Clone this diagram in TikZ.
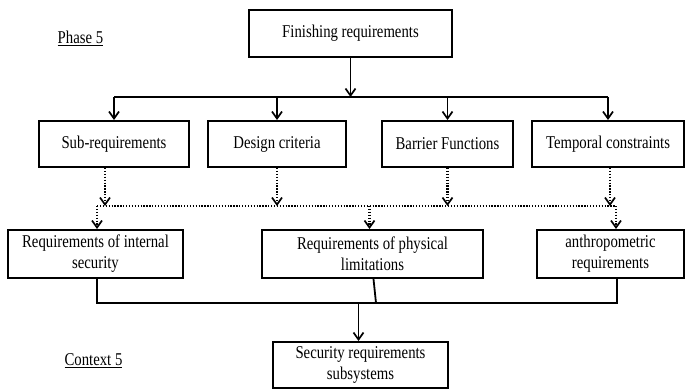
\documentclass[tikz,border=0pt]{standalone}
\usepackage{fontspec}
\setmainfont{Liberation Serif}[FakeStretch=0.82]
\usetikzlibrary{arrows.meta}
\begin{document}
\begin{tikzpicture}[x=1pt,y=-1pt,
  box/.style={draw, line width=2pt, align=center, inner sep=0pt,
    font=\fontsize{18}{21}\selectfont},
  lbl/.style={inner sep=0pt, font=\fontsize{18}{21}\selectfont},
  conn/.style={line width=1.8pt},
  dotl/.style={line width=2.4pt, dash pattern=on 1.3pt off 1.6pt},
  tip/.style={-{Straight Barb[length=7pt,width=10pt,line width=1.7pt]}}
]
\useasboundingbox (0,0) rectangle (687,390);

% boxes
\node[box, minimum width=203pt, minimum height=47pt] (fin) at (350.5,33.5) {Finishing requirements};

\node[box, minimum width=150pt, minimum height=46pt] (sub) at (114,144) {Sub-requirements};
\node[box, minimum width=138pt, minimum height=46pt] (des) at (277,144) {Design criteria};
\node[box, minimum width=131pt, minimum height=46pt] (bar) at (447.5,144) {Barrier Functions};
\node[box, minimum width=152pt, minimum height=46pt] (tem) at (608,144) {Temporal constraints};

\node[box, minimum width=175pt, minimum height=48pt] (int) at (95.5,254) {Requirements of internal\\security};
\node[box, minimum width=221pt, minimum height=48pt] (phy) at (372.5,254) {Requirements of physical\\limitations};
\node[box, minimum width=147pt, minimum height=48pt] (ant) at (610.5,254) {anthropometric\\requirements};

\node[box, minimum width=175pt, minimum height=46pt] (sec) at (360.5,365) {Security requirements\\subsystems};

\node[lbl] (ph) at (80.5,38) {\underline{Phase 5}};
\node[lbl] (cx) at (93.5,361) {\underline{Context 5}};

% top solid connectors
\coordinate (hl) at (114,97);
\coordinate (hr) at (608,97);
\draw[conn, tip] (fin.south) -- (fin.south |- hl);
\draw[conn] (hl) -- (hr);
\draw[conn, tip] (hl) -- (sub.north);
\draw[conn, tip] (des.north |- hl) -- (des.north);
\draw[conn, tip] (bar.north |- hl) -- (bar.north);
\draw[conn, tip] (hr) -- (tem.north);

% dotted connectors
\coordinate (dl) at (97,206);
\coordinate (dr) at (616,206);
\draw[dotl, tip] ([xshift=-9pt]sub.south) -- ([xshift=-9pt]sub.south |- dl);
\draw[dotl, tip] (des.south) -- (des.south |- dl);
\draw[dotl, tip] (bar.south) -- (bar.south |- dl);
\draw[dotl, tip] ([xshift=2pt]tem.south) -- ([xshift=2pt]tem.south |- dl);
\draw[dotl] (dl) -- (dr);
\draw[dotl, tip] (dl) -- (int.north -| dl);
\draw[dotl, tip] ([xshift=-3pt]phy.north |- dl) -- ([xshift=-3pt]phy.north);
\draw[dotl, tip] (dr) -- (ant.north -| dr);

% bottom solid connectors
\coordinate (bl) at (97,303);
\coordinate (br) at (617,303);
\coordinate (bm) at (376,303);
\draw[conn] (int.south -| bl) -- (bl) -- (br) -- (ant.south -| br);
\draw[conn] ([xshift=1pt]phy.south) -- (bm);
\draw[conn, tip] ([xshift=-2pt]sec.north |- bl) -- ([xshift=-2pt]sec.north);
\end{tikzpicture}
\end{document}
